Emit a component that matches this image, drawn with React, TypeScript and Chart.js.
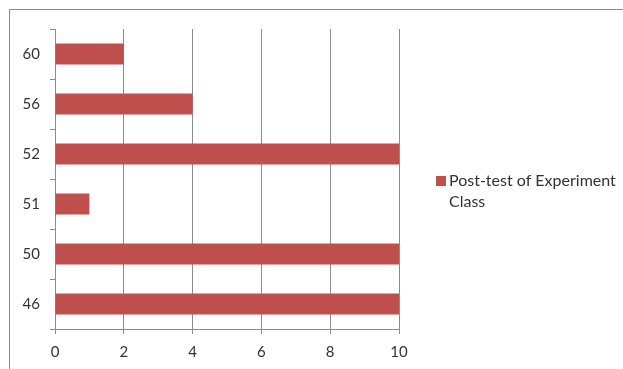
import React, { useEffect, useRef } from "react";
import { Chart, registerables } from "chart.js";

Chart.register(...registerables);

const categories = ["46", "50", "51", "52", "56", "60"];
const postTestValues = [10, 10, 1, 10, 4, 2];
const seriesLabel = ["Post-test of Experiment", "Class"];
const xTicks = [0, 2, 4, 6, 8, 10];

const BAR_COLOR = "#C0504D";
const GRID_COLOR = "#8C8C8C";
const TEXT_COLOR = "#333333";
const FONT_FAMILY = "Lato, 'Open Sans', sans-serif";

// Legend drawn to the right of the plot, with the series name wrapped over two lines
const sideLegend = {
  id: "sideLegend",
  afterDraw(chart: Chart) {
    const { ctx } = chart;
    const ds = chart.data.datasets[0];
    ctx.save();
    ctx.fillStyle = ds.backgroundColor as string;
    ctx.fillRect(436, 176, 10, 10);
    ctx.fillStyle = TEXT_COLOR;
    ctx.font = `16px ${FONT_FAMILY}`;
    ctx.textBaseline = "middle";
    ctx.textAlign = "left";
    seriesLabel.forEach((line, i) => {
      ctx.fillText(line, 449, 181 + i * 21);
    });
    ctx.restore();
  },
};

export default function App() {
  const canvasRef = useRef<HTMLCanvasElement | null>(null);

  useEffect(() => {
    document.body.style.margin = "0";
    const canvas = canvasRef.current;
    if (!canvas) return;
    const chart = new Chart(canvas, {
      type: "bar",
      data: {
        labels: categories,
        datasets: [
          {
            label: seriesLabel.join(" "),
            data: postTestValues,
            backgroundColor: BAR_COLOR,
            borderWidth: 0,
            categoryPercentage: 1,
            barPercentage: 0.42,
          },
        ],
      },
      options: {
        indexAxis: "y",
        animation: false,
        responsive: false,
        maintainAspectRatio: false,
        layout: { padding: { top: 29, right: 224, left: 0, bottom: 0 } },
        plugins: {
          legend: { display: false },
          tooltip: { enabled: false },
        },
        scales: {
          x: {
            min: 0,
            max: 10,
            afterBuildTicks(scale: any) {
              scale.ticks = xTicks.map((v) => ({ value: v }));
            },
            afterFit(scale: any) {
              scale.height = 40;
            },
            grid: {
              color: GRID_COLOR,
              lineWidth: 1,
              tickLength: 5,
              drawTicks: true,
            },
            border: { color: GRID_COLOR },
            ticks: {
              color: TEXT_COLOR,
              font: { size: 15, family: FONT_FAMILY },
              padding: 9,
              maxRotation: 0,
            },
          },
          y: {
            reverse: true,
            afterFit(scale: any) {
              scale.width = 55;
            },
            grid: {
              offset: true,
              drawOnChartArea: false,
              color: GRID_COLOR,
              tickLength: 5,
            },
            border: { color: GRID_COLOR },
            ticks: {
              color: TEXT_COLOR,
              font: { size: 15, family: FONT_FAMILY },
              padding: 10,
            },
          },
        },
      },
      plugins: [sideLegend],
    });
    return () => chart.destroy();
  }, []);

  return (
    <div style={{ position: "relative", width: 623, height: 369, background: "#fff", overflow: "hidden" }}>
      <div
        style={{
          position: "absolute",
          left: 9,
          top: 9,
          width: 700,
          height: 400,
          borderTop: "1px solid #8A8A8A",
          borderLeft: "1px solid #8A8A8A",
        }}
      />
      <canvas
        ref={canvasRef}
        width={623}
        height={369}
        style={{ position: "absolute", left: 0, top: 0, width: 623, height: 369 }}
      />
    </div>
  );
}
